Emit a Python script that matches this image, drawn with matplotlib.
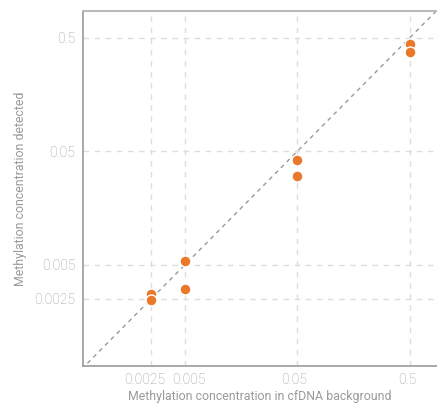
import matplotlib.pyplot as plt
import matplotlib.transforms as mtransforms
import numpy as np

# Spike-in methylation levels vs. what was detected
expected = [0.0025, 0.0025, 0.005, 0.005, 0.05, 0.05, 0.5, 0.5]
detected = [0.00275, 0.00243, 0.0054, 0.00308, 0.042, 0.0301, 0.44, 0.379]

tick_vals = [0.0025, 0.005, 0.05, 0.5]
tick_labels = ["0.0025", "0.005", "0.05", "0.5"]
# nudge crowded x labels apart (pixels)
xlabel_shift = [-6.5, 4, -3, -2]

plt.rcParams['font.family'] = ['Roboto', 'DejaVu Sans']
plt.rcParams['font.weight'] = 'light'

fig = plt.figure(figsize=(4.37, 4.04), dpi=100)
ax = fig.add_axes([0.191, 0.094, 0.809, 0.879])

ax.set_xscale("log")
ax.set_yscale("log")
ax.set_xlim(6.24e-4, 0.877)
ax.set_ylim(6.4e-4, 0.865)

# y = x reference line
diag = np.array([6e-4, 0.9])
ax.plot(diag, diag, color="#999999", lw=1, linestyle=(0, (3, 3)), zorder=2)

ax.scatter(expected, detected, s=62, color="#E9782A", edgecolors="white",
           linewidths=1, zorder=3)

ax.set_xticks(tick_vals)
ax.set_xticklabels(tick_labels)
ax.set_yticks(tick_vals)
ax.set_yticklabels(tick_labels)
ax.minorticks_off()
ax.tick_params(length=0, colors="#9a9a9a", labelsize=10, pad=6)
ax.tick_params(axis="x", pad=5)

for lbl, dx in zip(ax.get_xticklabels(), xlabel_shift):
    off = mtransforms.ScaledTranslation(dx / 100, 0, fig.dpi_scale_trans)
    lbl.set_transform(lbl.get_transform() + off)

ax.grid(True, color="#dddddd", linestyle=(0, (4, 4)), lw=1)
ax.set_axisbelow(True)

for side in ["left", "bottom"]:
    ax.spines[side].set_color("#999999")
    ax.spines[side].set_linewidth(1.2)
ax.spines["top"].set_color("#bbbbbb")
ax.spines["top"].set_linewidth(1.5)
ax.spines["right"].set_visible(False)

ax.set_xlabel("Methylation concentration in cfDNA background", color="#9a9a9a",
              fontsize=8.9, labelpad=2)
ax.set_ylabel("Methylation concentration detected", color="#9a9a9a",
              fontsize=8.9, labelpad=5)

fig.savefig("out.png", dpi=100)
